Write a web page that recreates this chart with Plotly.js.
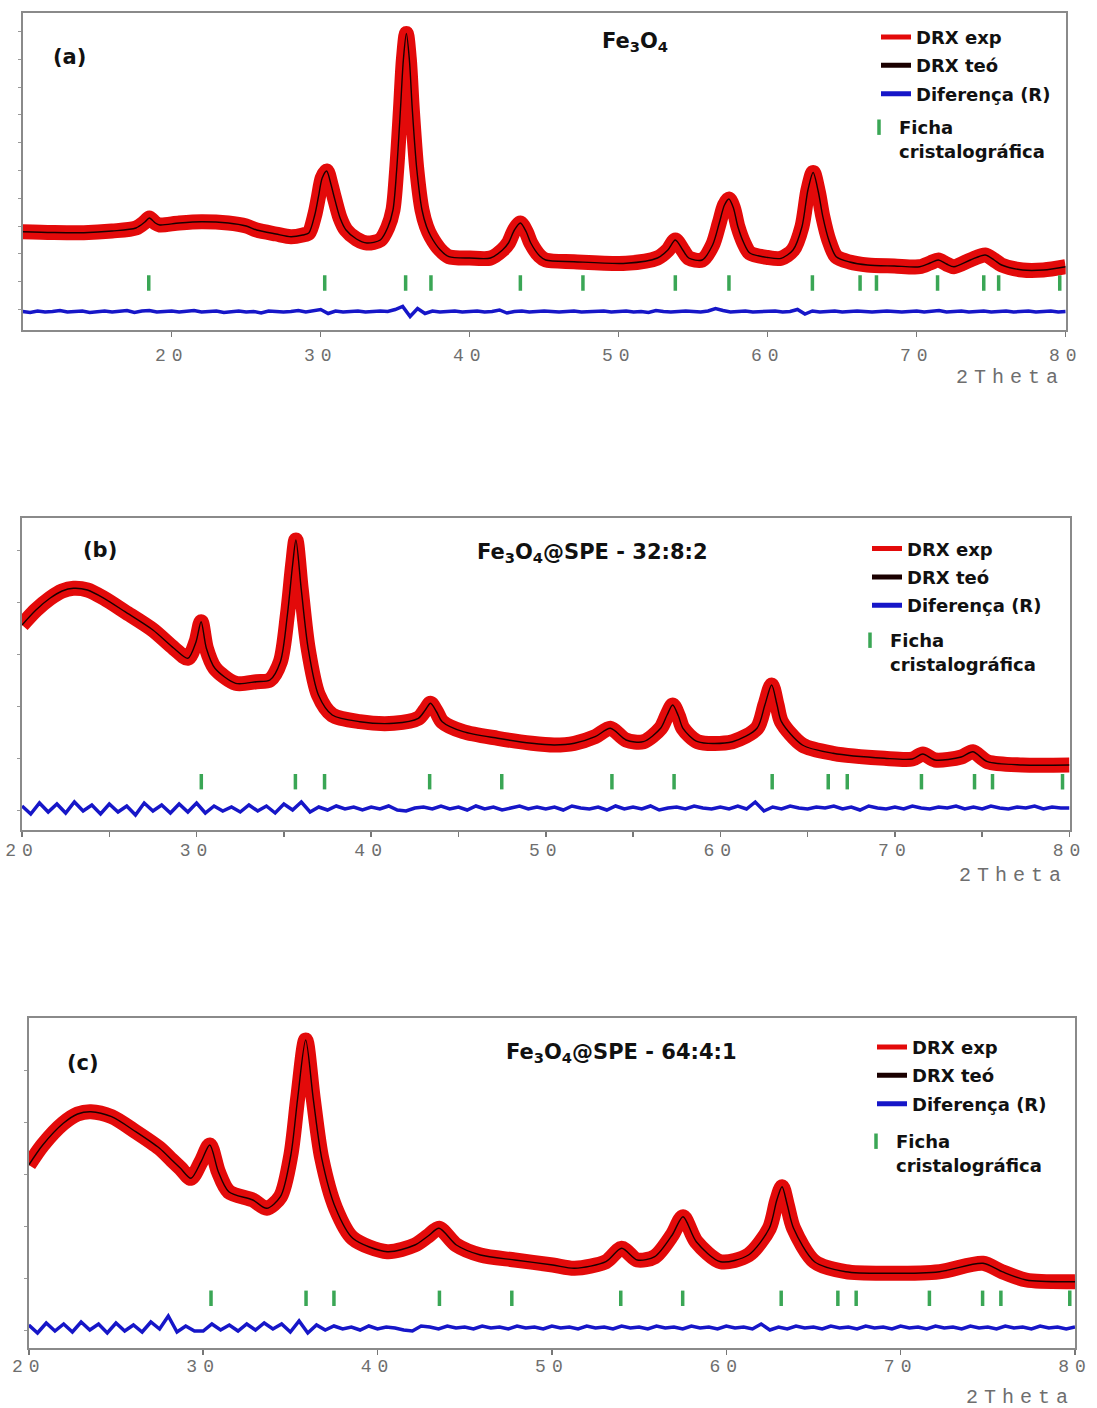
<!DOCTYPE html>
<html><head><meta charset="utf-8">
<script src="https://cdn.plot.ly/plotly-3.0.1.min.js"></script>
<style>
html,body{margin:0;padding:0;background:#fff;}
#chart{width:1097px;height:1408px;}
text[style*="Liberation Mono"]{letter-spacing:6px;}
.infolayer path.js-line{stroke-width:5px !important;}
</style></head><body><div id="chart"></div><script>
// ---------- Panel (a) Fe3O4 ----------
var thetaA = [10,12,14.1,16,17.6,18.2,18.5,18.9,19.2,20.5,22,23.8,25,25.7,27,28,28.8,29.2,29.6,29.85,30.1,30.4,30.7,30.9,31.3,31.7,32.4,33.1,34,34.5,34.85,35.1,35.35,35.55,35.75,35.95,36.15,36.45,36.8,37.1,37.4,38,38.6,40,41.4,42.2,42.6,43,43.4,43.8,44.1,44.7,45.1,47,50.5,52.6,53.3,53.8,54.3,54.7,55.6,56.3,56.75,57.1,57.4,57.7,58,58.4,58.8,60,60.9,61.7,62.3,62.7,63.05,63.4,63.7,64.1,64.6,65.5,66.7,68.5,70.2,70.9,71.45,72,72.5,73.6,74.6,75.2,75.7,77.1,78.5,80];
var intensA = [97.8,97,96.8,98.5,101.5,107.5,111.5,106.5,104.5,106.5,107.8,106.5,103.5,99.5,95.5,92.8,94.5,96.5,114.5,132.8,151.5,158.5,144.5,132.8,111.5,99.5,90.5,86.5,89.5,102,119.5,160,219.5,270,296,270,219.5,160,119.5,103,93,80,72.8,71.5,71.5,79.5,86.5,99.5,106.5,97.5,86.5,73.5,69.5,67.8,66.2,71.5,79.5,89.5,79.5,71.5,69.5,84.5,106.5,124.5,130.5,121.5,102.8,86.5,76.5,72,71.2,79.5,102.8,139.5,157,137.5,112.8,89.5,72.8,67.5,64.5,63.5,62.8,66.5,69.5,65.5,62.8,69.5,74.5,69.5,64.5,59.5,59.5,62.8];
var diffAStart = 10;
var diffA = [18,17,18.5,17.5,18,19,17.5,18,18.5,17,
 18,18.5,17.5,18,19,17,18.5,19,17.5,18,
 18.5,17.5,18,19,17.5,18,18.5,17,18,18.5,
 17.5,18,16.5,18.5,18,17.5,18,19,17.5,18.5,
 20,16,18.5,17.5,18,18.5,17.5,18,18.5,18,
 20,23,13,21,16,18.5,17.5,18,18.5,17.5,
 18,18.5,17.5,18,19.5,16.5,18,18.5,17.5,18,
 18.5,18,17.5,18,18.5,17.5,18,18,18.5,17.5,
 18,18.5,17.5,18,17,19,18,17.5,18,18.5,
 18,17.5,18.5,21,19,17.5,18,18.5,17.5,18,
 18,18.5,17.5,18,20,15.5,18.5,17.5,18,18.5,
 17.5,18,18.5,18,17.5,18,18.5,18,17.5,18,
 18.5,17.5,18,19,17.5,18,18.5,17.5,18,18.5,
 17.5,18,18.5,17.5,18,18.5,17.5,18,18.5,17.5,
 18];
var braggA = [18.46,30.27,35.7,37.4,43.4,47.6,53.8,57.4,63.0,66.2,67.3,71.4,74.5,75.5,79.6];
var braggLevelA = 46.5;

// ---------- Panel (b) Fe3O4@SPE - 32:8:2 ----------
var thetaB = [20,20.8,21.6,22.3,22.95,23.75,24.7,25.9,27.5,28.7,29.5,29.97,30.26,30.56,31.05,32.24,33.43,34.2,34.8,35.2,35.5,35.69,35.99,36.39,36.98,37.77,39.35,41.3,42.7,43.1,43.4,43.75,44.07,45.27,47.25,49.2,50.5,51.64,52.83,53.7,54.6,55.59,56.58,56.95,57.27,57.6,57.86,58.7,60.7,62.1,62.55,62.94,63.25,63.5,64.7,66.45,69.4,71,71.6,72.3,73.8,74.46,75.3,77.3,80];
var intensB = [205,220,231.7,239,241.7,240,231.7,218.3,200,181.7,171.7,188.3,208.3,181.7,161.7,146.7,148.3,150,168.3,215,265,290,241.7,181.7,135,115,108.3,106.7,111.7,120,126.7,118,108.3,98.3,91.7,86.7,85,86.7,93.3,101.7,90,88.3,101.7,115,125,114,101.7,88.3,88.3,101.7,125,145,125,108.3,85,76.7,71.7,71,76,70,73,78.3,68.3,65,65];
var diffBStart = 20;
var diffB = [24,16,27,18,26,17,28,19,25,16,
 26,18,24,15,27,19,25,17,26,18,
 27,17,24,19,23,18,25,19,24,17,
 26,20,28,18,23,20,24,21,23,20,
 23,21,24,20,19,22,23,21,24,21,
 23,20,24,21,23,20,22,24,21,23,
 21,23,20,24,22,21,23,20,24,21,
 23,21,24,20,22,23,21,24,22,21,
 23,21,24,21,28,19,23,21,24,22,
 21,23,22,24,21,23,20,24,22,21,
 23,21,24,22,21,23,22,24,21,23,
 21,24,22,21,23,22,24,21,23,22,
 22];
var braggB = [30.27,35.66,37.33,43.35,47.48,53.79,57.35,62.97,66.18,67.27,71.52,74.56,75.59,79.6];
var braggLevelB = 48.3;

// ---------- Panel (c) Fe3O4@SPE - 64:4:1 ----------
var thetaC = [20,20.8,21.98,22.8,23.56,24.75,26.13,27.5,28.2,28.7,29.3,29.88,30.38,30.87,31.47,32.85,33.64,34.43,35.03,35.42,35.88,36.31,36.8,37.6,38.58,40.56,42.14,42.9,43.53,44.52,45.9,47.88,50.05,51.3,53.1,54,54.9,55.9,56.9,57.52,58.28,59.67,61.27,62.47,62.9,63.2,63.5,63.86,65.06,66.85,69.24,72.23,74.72,75.82,77.2,80];
var intensC = [183,203,224.7,234,236.3,231.3,216.3,199.7,188,179.7,169.7,186.3,203,176.3,156.3,148,139.7,151.3,193,249.7,308,249.7,189.7,139.7,109.7,96.3,103,112,119.7,103,93,88,83,79.7,86.3,99.7,88,91.3,113,131.3,106.3,86.3,93,119.7,148,161.3,143,119.7,86.3,76.3,74.7,76.3,84.7,76.3,68,66.3];
var diffCStart = 20;
var diffC = [23,15,25,17,24,16,26,18,24,15,
 25,17,23,16,26,19,32,16,22,17,
 17,24,18,23,17,24,18,25,19,24,
 16,27,15,23,18,22,19,21,18,22,
 19,21,20,18,17,22,21,19,22,20,
 21,19,22,20,21,19,22,20,21,19,
 22,20,21,19,22,20,21,19,22,20,
 21,19,22,20,21,19,22,20,21,19,
 22,20,21,19,24,18,21,19,22,20,
 21,19,22,20,21,19,22,20,21,19,
 22,20,21,19,22,20,21,19,22,20,
 21,19,22,20,21,19,22,20,21,19,
 21];
var braggC = [30.45,35.9,37.5,43.55,47.7,53.95,57.5,63.15,66.4,67.45,71.65,74.7,75.75,79.7];
var braggLevelC = 49.7;

var xTickVals = [20,30,40,50,60,70,80];
var xTickText = ['20','30','40','50','60','70','80'];
var seriesNames = ['DRX exp','DRX teó','Diferença (R)','Ficha<br>cristalográfica'];
var panelTitles = ['Fe<sub>3</sub>O<sub>4</sub>','Fe<sub>3</sub>O<sub>4</sub>@SPE - 32:8:2','Fe<sub>3</sub>O<sub>4</sub>@SPE - 64:4:1'];
var panelLabels = ['(a)','(b)','(c)'];
var axisLabel = '2Theta';

// ---------- build ----------
var W = 1097, H = 1408;
function px(v){return v/W;}
function py(v){return 1 - v/H;}
var RED = '#e30a0a', BLACK = '#1a0000', BLUE = '#1616c8', GREEN = '#3aa655';

function makeX(start, n){ var a=[]; for (var i=0;i<n;i++) a.push(start + 0.5*i); return a; }
function constArr(v, n){ var a=[]; for (var i=0;i<n;i++) a.push(v); return a; }

var panels = [
  {theta: thetaA, inten: intensA, dStart: diffAStart, diff: diffA, bragg: braggA, lvl: braggLevelA, xa:'x', ya:'y', lg:'legend', lgF:'legend4'},
  {theta: thetaB, inten: intensB, dStart: diffBStart, diff: diffB, bragg: braggB, lvl: braggLevelB, xa:'x2', ya:'y2', lg:'legend2', lgF:'legend5'},
  {theta: thetaC, inten: intensC, dStart: diffCStart, diff: diffC, bragg: braggC, lvl: braggLevelC, xa:'x3', ya:'y3', lg:'legend3', lgF:'legend6'}
];

var traces = [];
panels.forEach(function(p, k){
  traces.push({type:'scatter', mode:'lines', x:p.theta, y:p.inten, xaxis:p.xa, yaxis:p.ya,
    name:seriesNames[0], legend:p.lg, legendgroup:'g0'+k,
    line:{color:RED, width:15, shape:'spline', smoothing:0.8}});
  traces.push({type:'scatter', mode:'lines', x:p.theta, y:p.inten, xaxis:p.xa, yaxis:p.ya,
    name:seriesNames[1], legend:p.lg, legendgroup:'g1'+k,
    line:{color:BLACK, width:1.4, shape:'spline', smoothing:0.8}});
  traces.push({type:'scatter', mode:'lines', x:makeX(p.dStart, p.diff.length), y:p.diff, xaxis:p.xa, yaxis:p.ya,
    name:seriesNames[2], legend:p.lg, legendgroup:'g2'+k,
    line:{color:BLUE, width:3.5}});
  traces.push({type:'scatter', mode:'markers', x:p.bragg, y:constArr(p.lvl, p.bragg.length), xaxis:p.xa, yaxis:p.ya,
    name:seriesNames[3], legend:p.lgF, legendgroup:'g3'+k,
    marker:{symbol:'line-ns-open', size:11, color:GREEN, line:{color:GREEN, width:3.5}}});
});

var boxLine = '#8a8a8a';
var tickFont = {family:'Liberation Mono', size:18, color:'#6e6e6e'};
function xAxis(dom, rng, anchor, standoff, minor){
  var ax = {domain:dom, range:rng, anchor:anchor, showgrid:false, zeroline:false,
    showline:true, mirror:true, linecolor:boxLine, linewidth:2,
    ticks:'outside', ticklen:5, tickwidth:1.5, tickcolor:'#777',
    tickmode:'array', tickvals:xTickVals, ticktext:xTickText, tickfont:tickFont,
    ticklabelstandoff:standoff, fixedrange:true};
  if (minor) ax.minor = {ticks:'outside', ticklen:5, tickwidth:1.5, tickcolor:'#777', dtick:5, tick0:20, showgrid:false};
  return ax;
}
function yAxis(dom, rng, anchor, t0, dt){
  return {domain:dom, range:rng, anchor:anchor, showgrid:false, zeroline:false,
    showline:true, mirror:true, linecolor:boxLine, linewidth:2,
    ticks:'outside', ticklen:3, tickwidth:1, tickcolor:'#999', showticklabels:false,
    tick0:t0, dtick:dt, fixedrange:true};
}
function legendAt(xp, yp){
  return {x:px(xp), y:py(yp), xanchor:'left', yanchor:'top', bgcolor:'rgba(0,0,0,0)', borderwidth:0,
    font:{family:'DejaVu Sans', size:18, color:'#111', weight:'bold'},
    traceorder:'grouped', tracegroupgap:2, itemwidth:30, valign:'top'};
}
var titleFont = {family:'DejaVu Sans', size:21, color:'#111', weight:'bold'};
var thetaFont = {family:'Liberation Mono', size:20, color:'#6e6e6e'};
function ann(t, x, y, xa, f){
  return {text:t, x:px(x), y:py(y), xref:'paper', yref:'paper', xanchor:xa, yanchor:'middle', showarrow:false, font:f};
}

var annotations = [
  ann(panelLabels[0], 69.5, 57, 'center', titleFont),
  ann(panelTitles[0], 634.5, 42, 'center', titleFont),
  ann(axisLabel, 1066, 377, 'right', thetaFont),
  ann(panelLabels[1], 99.5, 550, 'center', titleFont),
  ann(panelTitles[1], 592.8, 553, 'center', titleFont),
  ann(axisLabel, 1069, 875, 'right', thetaFont),
  ann(panelLabels[2], 83, 1063, 'center', titleFont),
  ann(panelTitles[2], 621.5, 1053, 'center', titleFont),
  ann(axisLabel, 1076, 1397, 'right', thetaFont)
];

var layout = {
  width:W, height:H, margin:{l:0,r:0,t:0,b:0}, paper_bgcolor:'#fff', plot_bgcolor:'#fff',
  showlegend:true,
  xaxis: xAxis([px(22.7), px(1065.7)], [10,80], 'y', 3, false),
  yaxis: yAxis([py(329.5), py(12.7)], [0,316.8], 'x', 20, 27.8),
  xaxis2: xAxis([px(22), px(1069.5)], [20,80], 'y2', -3, true),
  yaxis2: yAxis([py(830), py(518.3)], [0,311.7], 'x2', 20, 52),
  xaxis3: xAxis([px(28.8), px(1075)], [20,80], 'y3', -5, false),
  yaxis3: yAxis([py(1348), py(1018.3)], [0,329.7], 'x3', 18, 52),
  legend: legendAt(876, 18.7),
  legend2: legendAt(867, 530.3),
  legend3: legendAt(872, 1028.7),
  legend4: legendAt(859, 109),
  legend5: legendAt(850, 622),
  legend6: legendAt(856, 1123),
  annotations: annotations
};

Plotly.newPlot('chart', traces, layout, {displayModeBar:false, staticPlot:true});
</script></body></html>
